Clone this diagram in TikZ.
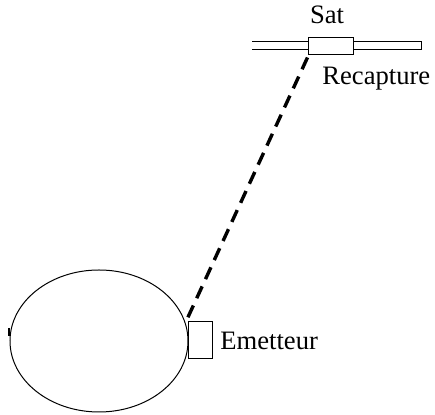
\documentclass[tikz,border=0pt]{standalone}
\usepackage{fontspec}
\setmainfont{Liberation Serif}
\usetikzlibrary{shapes.geometric}

\begin{document}
\begin{tikzpicture}[x=0.5pt,y=-0.5pt,
  every node/.style={font=\fontsize{13.3}{16}\selectfont},
  boite/.style={draw,line width=0.5pt,inner sep=0pt,fill=white},
  liaison/.style={line width=1.7pt,dash pattern=on 6.5pt off 4pt}]
  \useasboundingbox (0,0) rectangle (435,415);
  % antenne du satellite
  \draw[line width=0.5pt] (252,42) -- (308,42);
  \draw[line width=0.5pt] (252,50) -- (308,50);
  \draw[line width=0.5pt] (353,42) -- (421,42) -- (421,50) -- (353,50);
  \node[boite,minimum width=22.5pt,minimum height=8.5pt] (sat) at (330.5,46.5) {};
  \node (satlabel) at (327,15) {Sat};
  \node[anchor=west,inner sep=0pt] (recapture) at (322,79) {Recapture};
  % terre et emetteur
  \node[draw,ellipse,line width=0.5pt,minimum width=89pt,minimum height=71pt,inner sep=0pt] (terre) at (99,341) {};
  \draw[line width=1pt] (9,328) -- (9,336);
  \node[boite,minimum width=12pt,minimum height=18.5pt] (emetteur) at (200,340.5) {};
  \node[anchor=west,inner sep=0pt] (emetlabel) at (220,341) {Emetteur};
  % liaison
  \coordinate (depart) at ([yshift=-1pt]sat.south west);
  \draw[liaison] (depart) -- (terre.12);
\end{tikzpicture}
\end{document}
